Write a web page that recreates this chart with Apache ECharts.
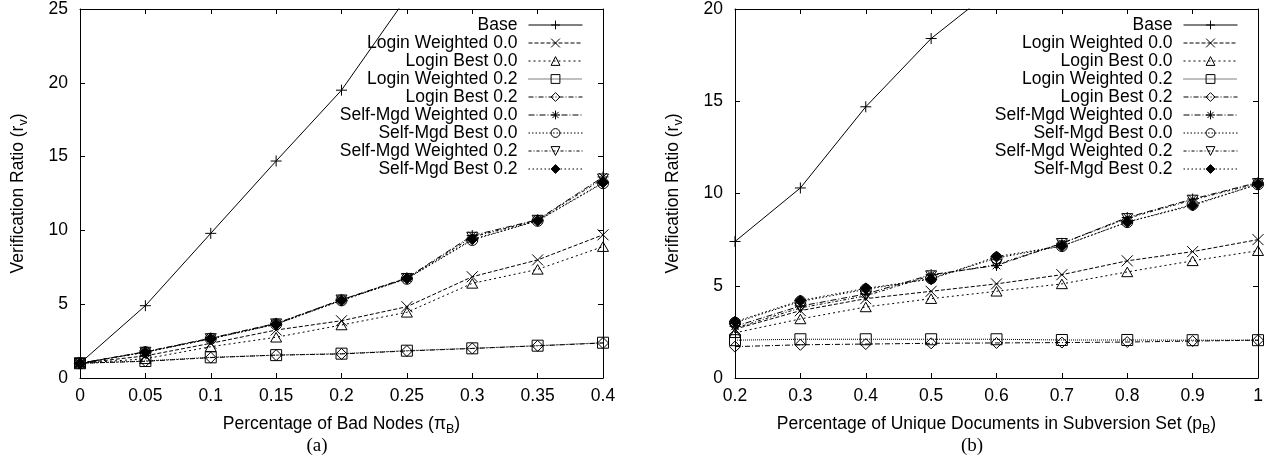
<!DOCTYPE html>
<html><head><meta charset="utf-8">
<script src="https://cdn.jsdelivr.net/npm/echarts@6/dist/echarts.min.js"></script>
<style>html,body{margin:0;padding:0;background:#fff}#c{width:1268px;height:459px}</style>
</head><body><div id="c"></div>
<script>
// ---- Data ----
const seriesNames = ['Base','Login Weighted 0.0','Login Best 0.0','Login Weighted 0.2','Login Best 0.2',
  'Self-Mgd Weighted 0.0','Self-Mgd Best 0.0','Self-Mgd Weighted 0.2','Self-Mgd Best 0.2'];

// (a) x = percentage of bad nodes
const xA = [0, 0.05, 0.1, 0.15, 0.2, 0.25, 0.3, 0.35, 0.4];
const baseA   = [1, 4.9, 9.8, 14.7, 19.5, 25.8, 31.5, 37.5, 43.5];
const loginW00A = [1, 1.5, 2.35, 3.25, 3.88, 4.83, 6.86, 8.0, 9.7];
const loginB00A = [1, 1.3, 2.12, 2.76, 3.59, 4.45, 6.41, 7.36, 8.9];
const loginW02A = [1, 1.15, 1.4, 1.55, 1.65, 1.85, 2.01, 2.19, 2.39];
const loginB02A = [1, 1.13, 1.38, 1.55, 1.63, 1.83, 2.0, 2.18, 2.37];
const smW00A  = [1, 1.78, 2.7, 3.7, 5.3, 6.78, 9.65, 10.72, 13.62];
const smB00A  = [1, 1.75, 2.66, 3.64, 5.26, 6.72, 9.35, 10.65, 13.2];
const smW02A  = [1, 1.76, 2.68, 3.68, 5.3, 6.76, 9.55, 10.7, 13.5];
const smB02A  = [1, 1.74, 2.65, 3.65, 5.25, 6.74, 9.4, 10.66, 13.25];

// (b) x = percentage of unique documents in subversion set
const xB = [0.2, 0.3, 0.4, 0.5, 0.6, 0.7, 0.8, 0.9, 1.0];
const baseB   = [7.4, 10.3, 14.7, 18.4, 21.2, 23.8, 26.3, 28.7, 31];
const loginW00B = [2.65, 3.65, 4.3, 4.7, 5.1, 5.6, 6.35, 6.85, 7.5];
const loginB00B = [2.45, 3.2, 3.85, 4.3, 4.7, 5.1, 5.75, 6.35, 6.9];
const loginW02B = [2.05, 2.1, 2.1, 2.1, 2.1, 2.06, 2.06, 2.05, 2.05];
const loginB02B = [1.7, 1.8, 1.84, 1.88, 1.9, 1.92, 1.95, 2.0, 2.05];
const smW00B  = [2.8, 3.9, 4.55, 5.6, 6.1, 7.3, 8.7, 9.7, 10.6];
const smB00B  = [3.0, 4.15, 4.8, 5.4, 6.5, 7.15, 8.45, 9.4, 10.5];
const smW02B  = [2.7, 3.8, 4.45, 5.55, 6.15, 7.3, 8.65, 9.65, 10.55];
const smB02B  = [3.05, 4.2, 4.86, 5.35, 6.58, 7.15, 8.45, 9.35, 10.5];

const xTicksA = {min: 0, max: 0.4, interval: 0.05};
const xTicksB = {min: 0.2, max: 1, interval: 0.1};
const yTicksA = {min: 0, max: 25, interval: 5};
const yTicksB = {min: 0, max: 20, interval: 5};

// ---- Styles ----
const FONT = 'Liberation Sans';
const FS = 17.5;
const styles = [
  {symbol: 'path://M0,5L10,5M5,0L5,10', dash: 'solid', fill: 'transparent'},
  {symbol: 'path://M0,0L10,10M0,10L10,0', dash: [4, 2], fill: 'transparent'},
  {symbol: 'path://M5,0L10,8.66L0,8.66Z', dash: [2, 3], fill: 'transparent'},
  {symbol: 'rect', dash: [1, 1], fill: 'transparent'},
  {symbol: 'diamond', dash: [5, 2, 1, 2], fill: 'transparent'},
  {symbol: 'path://M5,0L5,10M0,5L10,5M1.5,1.5L8.5,8.5M1.5,8.5L8.5,1.5', dash: [6, 2, 1, 2], fill: 'transparent'},
  {symbol: 'circle', dash: [1.5, 2], fill: 'transparent'},
  {symbol: 'path://M0,0L10,0L5,8.66Z', dash: [3, 2, 1, 2], fill: 'transparent'},
  {symbol: 'diamond', dash: [1.5, 2.5], fill: '#000'}
];
const dataA = [baseA, loginW00A, loginB00A, loginW02A, loginB02A, smW00A, smB00A, smW02A, smB02A];
const dataB = [baseB, loginW00B, loginB00B, loginW02B, loginB02B, smW00B, smB00B, smW02B, smB02B];

function mkSeries(xs, ys, i, axisIdx) {
  const st = styles[i];
  return {
    type: 'line', name: seriesNames[i],
    xAxisIndex: axisIdx, yAxisIndex: axisIdx,
    data: xs.map((x, k) => [x, ys[k]]),
    symbol: st.symbol, symbolSize: 11, symbolKeepAspect: true,
    showAllSymbol: true, clip: true, animation: false,
    itemStyle: {color: st.fill, borderColor: '#000', borderWidth: 1},
    lineStyle: {color: '#000', width: 1, type: st.dash},
    emphasis: {disabled: true}
  };
}

const series = [];
dataA.forEach((d, i) => series.push(mkSeries(xA, d, i, 0)));
dataB.forEach((d, i) => series.push(mkSeries(xB, d, i, 2)));

const rich = {s: {fontSize: 12.5, fontFamily: FONT, padding: [10, 0, 0, 0]}};
const fmt = v => String(+(+v).toFixed(2));

function xAxisPair(grid, t, name) {
  const common = {type: 'value', gridIndex: grid, min: t.min, max: t.max, interval: t.interval,
    splitLine: {show: false}, axisLine: {show: true, onZero: false, lineStyle: {color: '#000', width: 1}},
    axisTick: {show: true, inside: true, length: 5, lineStyle: {color: '#000'}}};
  return [
    Object.assign({}, common, {position: 'bottom', name: name, nameLocation: 'middle', nameGap: 35,
      nameTextStyle: {fontSize: FS, fontFamily: FONT, color: '#000', rich: rich},
      axisLabel: {fontSize: FS, fontFamily: FONT, color: '#000', margin: 9, formatter: fmt}}),
    Object.assign({}, common, {position: 'top', axisLabel: {show: false}})
  ];
}
function yAxisPair(grid, t) {
  const common = {type: 'value', gridIndex: grid, min: t.min, max: t.max, interval: t.interval,
    splitLine: {show: false}, axisLine: {show: true, onZero: false, lineStyle: {color: '#000', width: 1}},
    axisTick: {show: true, inside: true, length: 5, lineStyle: {color: '#000'}}};
  return [
    Object.assign({}, common, {position: 'left', name: 'Verification Ratio (r{s|v})', nameLocation: 'middle', nameGap: 50,
      nameTextStyle: {fontSize: FS, fontFamily: FONT, color: '#000', rich: rich},
      axisLabel: {fontSize: FS, fontFamily: FONT, color: '#000', margin: 12}}),
    Object.assign({}, common, {position: 'right', axisLabel: {show: false}})
  ];
}

const legendCommon = {orient: 'vertical', align: 'right', top: 11, itemWidth: 54, itemHeight: 11, itemGap: 0,
  data: seriesNames, selectedMode: false,
  lineStyle: {width: 1},
  itemStyle: {borderWidth: 1},
  textStyle: {fontSize: FS, fontFamily: FONT, color: '#000', lineHeight: 17.1, padding: [0, 6, 0, 0]}};

const option = {
  animation: false,
  backgroundColor: '#fff',
  grid: [
    {left: 80, top: 9, width: 523, height: 369, containLabel: false},
    {left: 735, top: 9, width: 523, height: 369, containLabel: false}
  ],
  xAxis: [...xAxisPair(0, xTicksA, 'Percentage of Bad Nodes (π{s|B})'),
          ...xAxisPair(1, xTicksB, 'Percentage of Unique Documents in Subversion Set (p{s|B})')],
  yAxis: [...yAxisPair(0, yTicksA), ...yAxisPair(1, yTicksB)],
  legend: [
    Object.assign({}, legendCommon, {right: 680}),
    Object.assign({}, legendCommon, {right: 25})
  ],
  title: [
    {text: '(a)', left: 312, top: 432, textAlign: 'center', textStyle: {fontFamily: 'Liberation Serif', fontSize: 19, fontWeight: 'normal', color: '#000'}},
    {text: '(b)', left: 967, top: 432, textAlign: 'center', textStyle: {fontFamily: 'Liberation Serif', fontSize: 19, fontWeight: 'normal', color: '#000'}}
  ],
  series: series
};
const chart = echarts.init(document.getElementById('c'), null, {renderer: 'canvas'});
chart.setOption(option);
</script></body></html>
